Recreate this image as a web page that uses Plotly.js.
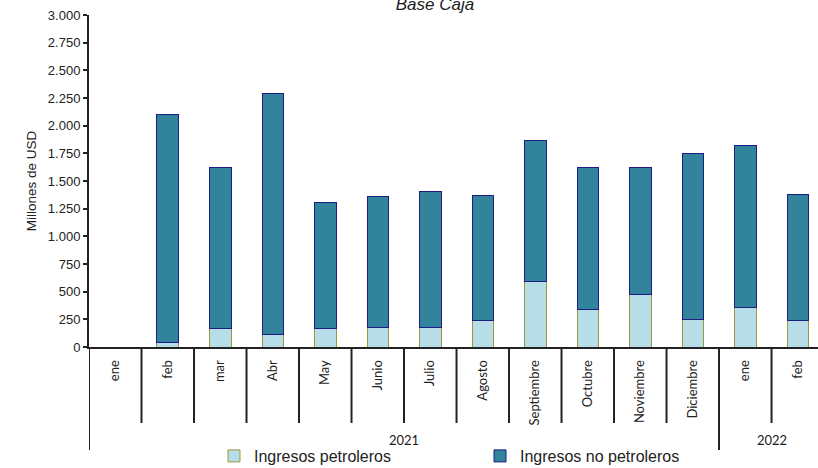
<!DOCTYPE html>
<html>
<head>
<meta charset="utf-8">
<script src="https://cdn.plot.ly/plotly-3.0.1.min.js"></script>
<style>
html,body{margin:0;padding:0;background:#fff;}
#chart{width:818px;height:468px;}
</style>
</head>
<body>
<div id="chart"></div>
<script>
// ---- data ----
var months = ["ene","feb","mar","Abr","May","Junio","Julio","Agosto","Septiembre","Octubre","Noviembre","Diciembre","ene","feb"];
var years = ["2021","2022"];
var yearCounts = [12, 2];
var petroleros = [0, 40, 165, 115, 163, 180, 172, 244, 594, 341, 470, 250, 359, 241];
var noPetroleros = [0, 2060, 1455, 2175, 1147, 1182, 1236, 1128, 1276, 1279, 1155, 1495, 1466, 1136];
var yTickVals = [0,250,500,750,1000,1250,1500,1750,2000,2250,2500,2750,3000];

// ---- layout helpers ----
var plotH = 332;
var idx = months.map(function(_, i){ return i; });
var shapes = [];
var groupStarts = [0];
var acc = 0;
yearCounts.forEach(function(c){ acc += c; groupStarts.push(acc); });
for (var b = 0; b <= months.length; b++) {
  var isGroup = groupStarts.indexOf(b) >= 0 && b < months.length;
  shapes.push({
    type: 'line', xref: 'x', yref: 'paper',
    x0: b - 0.5, x1: b - 0.5, y0: 0, y1: isGroup ? -103/plotH : -76/plotH,
    line: {color: '#222222', width: 2}
  });
}
var annotations = [];
years.forEach(function(yr, k){
  var center = (groupStarts[k] + groupStarts[k+1] - 1) / 2;
  annotations.push({
    x: center, xref: 'x', y: -93/plotH, yref: 'paper',
    text: yr, showarrow: false, xanchor: 'center', yanchor: 'middle',
    font: {family: 'Lato, sans-serif', size: 13, color: '#222222'}
  });
});

var traces = [
  {
    type: 'bar', name: 'Ingresos petroleros', x: idx, y: petroleros, width: 0.41,
    marker: {color: '#b7dde8', line: {color: '#9a9a3a', width: 1}}
  },
  {
    type: 'bar', name: 'Ingresos no petroleros', x: idx, y: noPetroleros, width: 0.41,
    marker: {color: '#31849b', line: {color: '#1c1c84', width: 1}}
  }
];

var layout = {
  width: 818, height: 468,
  margin: {l: 89, r: 0, t: 15, b: 121, autoexpand: false},
  paper_bgcolor: '#ffffff', plot_bgcolor: '#ffffff',
  barmode: 'stack',
  separators: ',.',
  font: {family: 'Liberation Sans, Arial, sans-serif', color: '#222222'},
  title: {
    text: '<i>Base Caja</i>', x: 435/818, xanchor: 'center',
    xref: 'container', yref: 'container', y: 1 - 4/468, yanchor: 'middle',
    font: {family: 'Liberation Sans, Arial, sans-serif', size: 17, color: '#222222'}
  },
  xaxis: {
    type: 'linear', range: [-0.5, 13.385],
    tickmode: 'array', tickvals: idx, ticktext: months,
    tickangle: -90, ticks: '', showgrid: false, zeroline: false,
    showline: true, linecolor: '#222222', linewidth: 2,
    tickfont: {family: 'Lato, sans-serif', size: 13, color: '#222222'},
    ticklabelstandoff: 6
  },
  yaxis: {
    range: [0, 3000], tickmode: 'array', tickvals: yTickVals,
    tickformat: ',d', ticks: 'outside', ticklen: 4, tickwidth: 2, tickcolor: '#222222',
    showgrid: false, zeroline: false,
    showline: true, linecolor: '#222222', linewidth: 2,
    tickfont: {size: 13, color: '#222222'},
    title: {text: 'Millones de USD', font: {size: 13.5, color: '#222222'}, standoff: 8}
  },
  showlegend: true,
  legend: {
    orientation: 'h', x: (214-89)/729, xanchor: 'left',
    y: -(456-347)/plotH, yanchor: 'middle',
    font: {size: 16, color: '#222222'},
    entrywidth: 221, entrywidthmode: 'pixels',
    traceorder: 'normal', bgcolor: 'rgba(0,0,0,0)'
  },
  shapes: shapes,
  annotations: annotations
};

Plotly.newPlot('chart', traces, layout, {displayModeBar: false, staticPlot: true});
</script>
</body>
</html>
